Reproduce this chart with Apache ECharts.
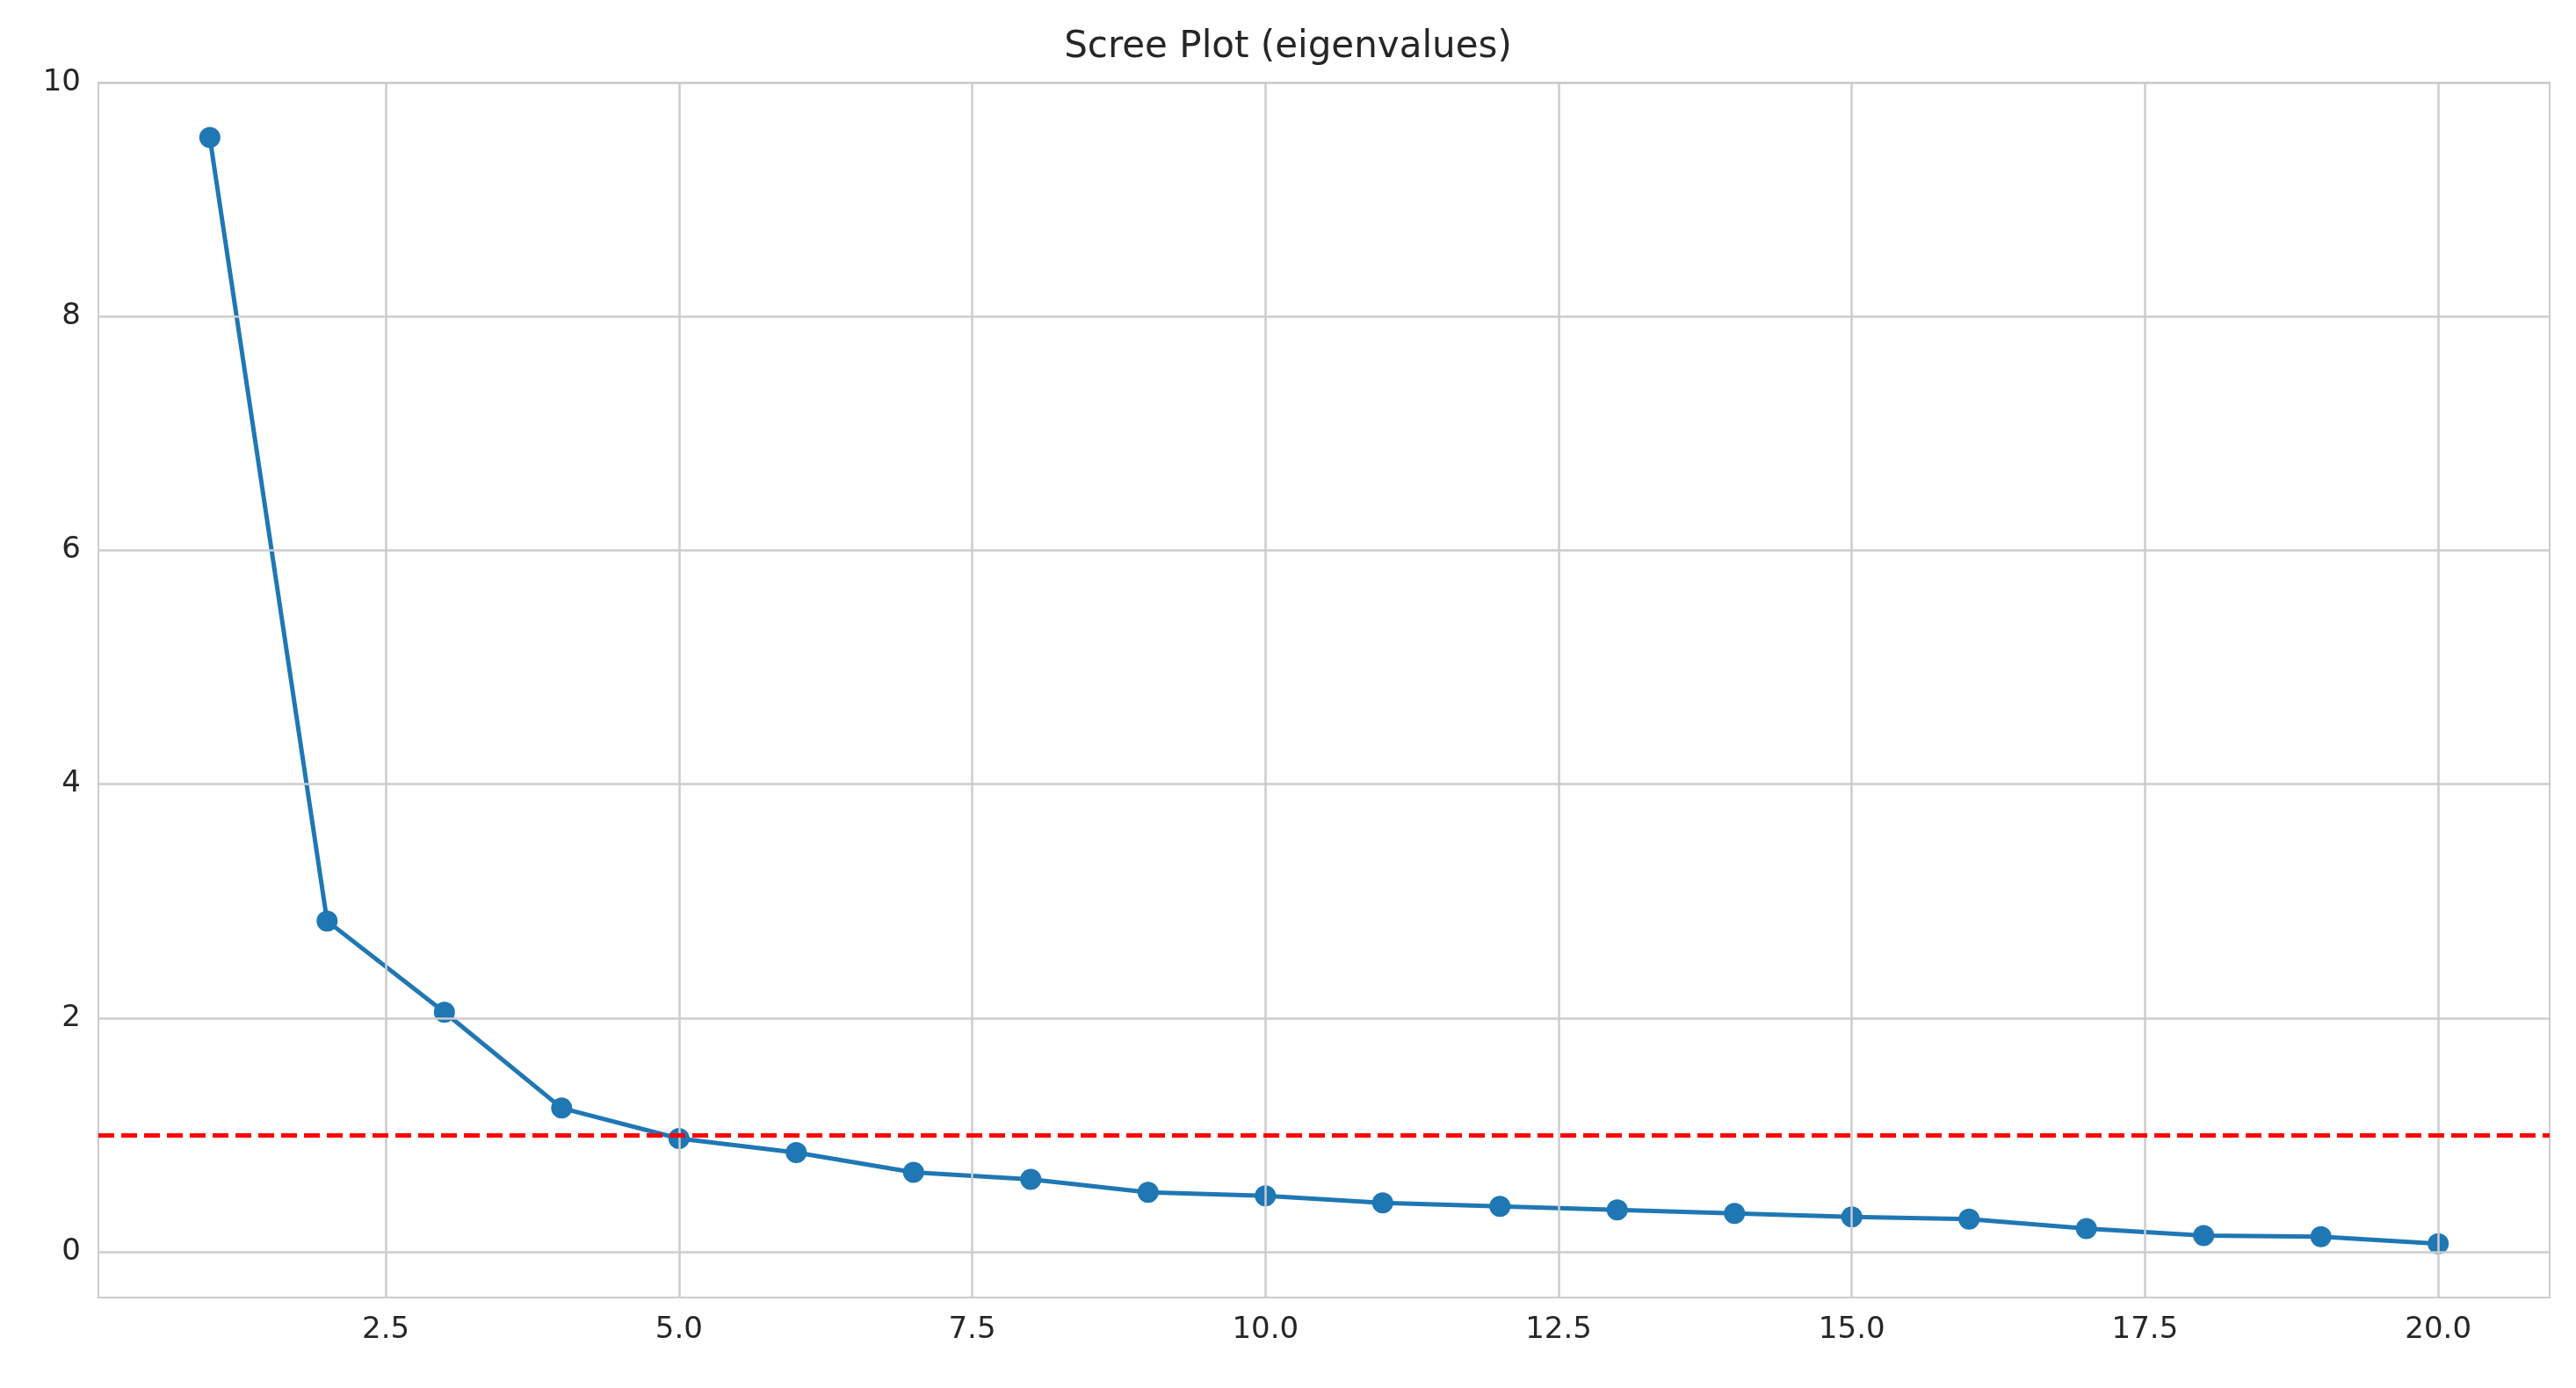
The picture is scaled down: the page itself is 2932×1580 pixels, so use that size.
<!DOCTYPE html>
<html><head><meta charset="utf-8">
<script src="https://cdn.jsdelivr.net/npm/echarts@6/dist/echarts.min.js"></script>
<style>html,body{margin:0;padding:0;background:#fff}#c{width:2932px;height:1580px}</style>
</head><body><div id="c"></div>
<script>
var components = [1,2,3,4,5,6,7,8,9,10,11,12,13,14,15,16,17,18,19,20];
var eigenvalues = [9.53,2.83,2.05,1.23,0.97,0.85,0.68,0.62,0.51,0.48,0.42,0.39,0.36,0.33,0.30,0.28,0.20,0.14,0.13,0.07];
var xTicks = [2.5,5,7.5,10,12.5,15,17.5,20];
var yTicks = [0,2,4,6,8,10];
var kaiser = 1;

var chart = echarts.init(document.getElementById('c'));
var grid = [];
xTicks.forEach(function (v) { grid.push({ xAxis: v }); });
yTicks.forEach(function (v) { grid.push({ yAxis: v }); });

chart.setOption({
    animation: false,
    title: { text: 'Scree Plot (eigenvalues)', left: 'center', top: 28,
        textStyle: { fontFamily: 'DejaVu Sans', fontSize: 42, fontWeight: 'normal', color: '#262626' } },
    grid: { left: 112, right: 30, top: 94, bottom: 103, show: true, borderColor: '#cccccc', borderWidth: 2 },
    xAxis: {
        type: 'value', min: 0.05, max: 20.95,
        axisLine: { show: false }, axisTick: { show: false }, splitLine: { show: false },
        axisLabel: { customValues: xTicks, fontFamily: 'DejaVu Sans', fontSize: 34, color: '#262626', margin: 20,
            formatter: function (v) { return v.toFixed(1); } }
    },
    yAxis: {
        type: 'value', min: -0.39, max: 10,
        axisLine: { show: false }, axisTick: { show: false }, splitLine: { show: false },
        axisLabel: { customValues: yTicks, fontFamily: 'DejaVu Sans', fontSize: 34, color: '#262626', margin: 20 }
    },
    series: [{
        type: 'line', data: [], silent: true, z: 1,
        markLine: { silent: true, symbol: 'none', label: { show: false },
            lineStyle: { color: '#cccccc', width: 2.5, type: 'solid' }, data: grid }
    }, {
        type: 'line', z: 3,
        data: components.map(function (c, i) { return [c, eigenvalues[i]]; }),
        symbol: 'circle', symbolSize: 24,
        lineStyle: { color: '#1f77b4', width: 5 },
        itemStyle: { color: '#1f77b4' },
        markLine: { silent: true, symbol: 'none', label: { show: false },
            lineStyle: { color: '#ff0000', width: 5, type: [18, 8] }, data: [{ yAxis: kaiser }] }
    }]
});
</script></body></html>
